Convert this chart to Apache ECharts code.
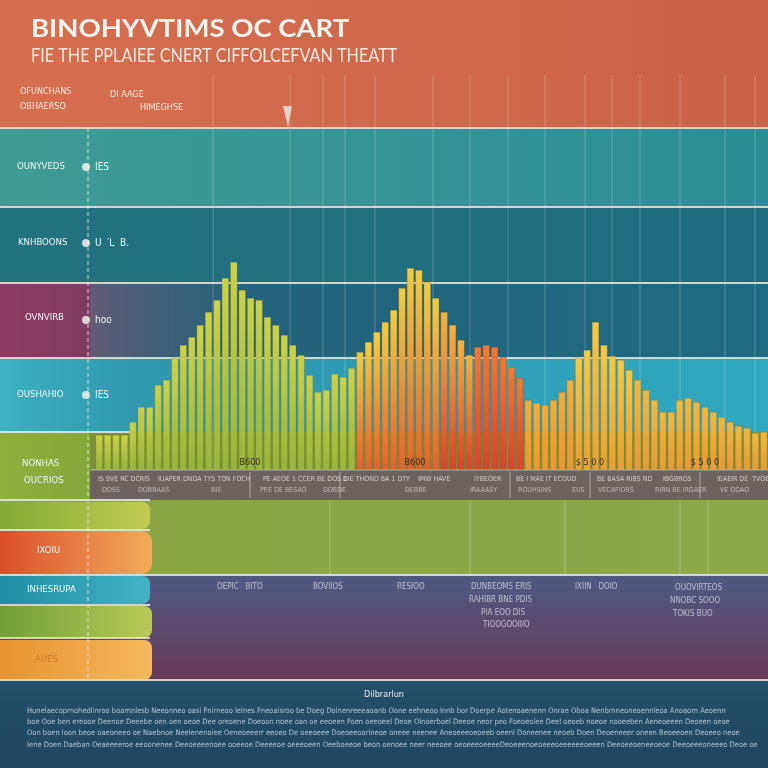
<!DOCTYPE html>
<html><head><meta charset="utf-8">
<script src="https://cdn.jsdelivr.net/npm/echarts@6/dist/echarts.min.js"></script>
<style>html,body{margin:0;padding:0;background:#234a64}#c{width:768px;height:768px}</style>
</head><body><div id="c"></div>
<script>
// ---- data ----
const categories = Array.from({length: 80}, (_, i) => 'B' + (i + 1));
const barValues = [35,35,35,35,48,63,63,85,90,112,125,133,145,158,170,192,208,180,172,170,
  153,145,135,125,115,95,78,80,96,93,102,118,128,138,148,160,182,202,200,188,
  172,158,145,130,115,123,125,123,113,103,92,70,67,65,70,78,90,112,120,148,
  125,114,110,100,90,80,70,58,58,70,72,68,63,58,53,48,44,42,37,38];
const valueTags = ['B600', 'B600', '$ 5 0 0', '$ 5 0 0'];
const title = 'BINOHYVTIMS OC CART';
const subtitle = 'FIE THE PPLAIEE CNERT CIFFOLCEFVAN THEATT';
const bandLabels = ['OUNYVEDS', 'KNHBOONS', 'OVNVIRB', 'OUSHAHIO', 'NONHAS', 'OUCRIOS', 'IXOIU', 'INHESRUPA', 'AUES'];
const sideLabels = ['IES', 'U  \u2032L  B.', 'hoo', 'IES'];

function barColor(i) {
  let top, bot;
  if (i < 31) { top = '#cbd24a'; bot = '#98b43a'; }
  else if (i < 41) { top = '#f2cc42'; bot = '#e2622c'; }
  else if (i < 45) { top = '#f3b442'; bot = '#d9432b'; }
  else if (i < 51) { top = '#f07a32'; bot = '#d8432e'; }
  else if (i < 57) { top = '#f1ae3a'; bot = '#e99732'; }
  else if (i < 64) { top = '#f4c844'; bot = '#e9a033'; }
  else { top = '#f0b83e'; bot = '#e69c34'; }
  return new echarts.graphic.LinearGradient(0, 0, 0, 1, [{offset: 0, color: top}, {offset: 1, color: bot}]);
}

const W = 768;
function rect(x, y, w, h, fill, z) { return {type: 'rect', z: z || 0, silent: true, shape: {x, y, width: w, height: h}, style: {fill}}; }
function hgrad(a, b) { return new echarts.graphic.LinearGradient(0, 0, 1, 0, [{offset: 0, color: a}, {offset: 1, color: b}]); }
function vgrad(a, b) { return new echarts.graphic.LinearGradient(0, 0, 0, 1, [{offset: 0, color: a}, {offset: 1, color: b}]); }
function line(x1, y1, x2, y2, stroke, lw, z, dash) { return {type: 'line', z: z || 1, silent: true, shape: {x1, y1, x2, y2}, style: {stroke, lineWidth: lw || 1, lineDash: dash || null}}; }
function txt(x, y, t, size, fill, opts) {
  opts = opts || {};
  return {type: 'text', z: opts.z || 50, silent: true, x, y, scaleX: opts.sx || 1,
    style: Object.assign({text: t, fill, fontSize: size, fontFamily: opts.font || 'DejaVu Sans Condensed, DejaVu Sans, sans-serif',
      fontWeight: opts.weight || 'normal', align: opts.align || 'left', verticalAlign: 'middle', opacity: opts.opacity == null ? 1 : opts.opacity}, opts.style || {})};
}

const g = [];
// background bands
g.push(rect(0, 0, W, 128, hgrad('#d66f4e', '#c9624a')));
g.push(rect(0, 128, W, 79, hgrad('#3f9c94', '#2b8d95')));
g.push(rect(0, 207, W, 76, hgrad('#23727f', '#1f6b80')));
g.push(rect(0, 283, W, 75, hgrad('#255f78', '#1f6a82')));
g.push(rect(0, 283, 90, 75, hgrad('#8e3a60', '#7f3c62')));
g.push(rect(90, 283, 200, 75, hgrad('#655a74', 'rgba(37,100,122,0)')));
g.push(rect(0, 358, W, 74, hgrad('#2e8fa6', '#2fa9c0')));
g.push(rect(0, 358, 260, 74, hgrad('#3db3c2', 'rgba(46,143,166,0)')));
g.push(rect(0, 432, W, 38, '#7c9238'));
g.push(rect(0, 432, 90, 68, hgrad('#8fae3e', '#86a83a')));
g.push(rect(90, 470, W - 90, 30, '#6c625f'));
g.push(rect(0, 500, W, 75, hgrad('#8aa444', '#8ea64c')));
g.push(rect(0, 575, W, 105, vgrad('#4e5a82', '#6a3a58')));
g.push(rect(0, 680, W, 88, vgrad('#24506a', '#1f4660')));
// left rounded panels
g.push({type: 'rect', z: 2, silent: true, shape: {x: -10, y: 502, width: 160, height: 27, r: 8}, style: {fill: hgrad('#7da834', '#c2cc52')}});
g.push({type: 'rect', z: 2, silent: true, shape: {x: -10, y: 531, width: 162, height: 43, r: 10}, style: {fill: hgrad('#d9472a', '#f2ac5a')}});
g.push({type: 'rect', z: 2, silent: true, shape: {x: -10, y: 576, width: 160, height: 28, r: 8}, style: {fill: hgrad('#1f8aa0', '#43b3c4')}});
g.push({type: 'rect', z: 2, silent: true, shape: {x: -10, y: 606, width: 162, height: 32, r: 8}, style: {fill: hgrad('#6c9c34', '#b9c958')}});
g.push({type: 'rect', z: 2, silent: true, shape: {x: -10, y: 640, width: 162, height: 40, r: 8}, style: {fill: hgrad('#e8902e', '#f4b85c')}});
// horizontal white lines
[[0, 128, W], [0, 207, W], [0, 283, W], [0, 358, W], [0, 432, 130], [0, 500, 150], [0, 530, 150], [0, 575, W], [0, 605, 150], [0, 638, 150], [0, 680, W]].forEach(l => g.push(line(l[0], l[1], l[0] + l[2], l[1], 'rgba(230,235,225,0.85)', 2, 3)));
g.push(line(90, 470, W, 470, 'rgba(230,230,220,0.6)', 1, 30));
// vertical faint lines
[213, 290, 323, 345, 375, 433, 470, 508, 545, 585, 612, 640, 680, 725, 755].forEach(x => g.push(line(x, 75, x, 470, 'rgba(255,255,255,0.22)', 1, 1)));
[330, 470, 565, 680, 708].forEach(x => g.push(line(x, 500, x, 575, 'rgba(255,255,255,0.25)', 1, 3)));
[250, 340, 510, 590, 700].forEach(x => g.push(line(x, 472, x, 498, 'rgba(255,255,255,0.45)', 1, 31)));
// dashed vertical
g.push(line(88, 128, 88, 680, 'rgba(240,240,230,0.8)', 1, 40, [4, 3]));
// arrow
g.push({type: 'polygon', z: 5, silent: true, shape: {points: [[283, 106], [292, 106], [288, 127]]}, style: {fill: 'rgba(235,225,215,0.85)'}});

// title
g.push(txt(31, 29, title, 25, '#fdf4ee', {weight: 'bold', font: 'Lato, DejaVu Sans, sans-serif', sx: 1.1}));
g.push(txt(31, 56, subtitle, 20, '#fbe9e0', {font: 'Lato, DejaVu Sans, sans-serif', sx: 0.81}));
g.push(txt(20, 92, 'OFUNCHANS', 9, '#fbe6dc'));
g.push(txt(20, 107, 'OBHAERSO', 9, '#fbe6dc'));
g.push(txt(110, 95, 'DI AAGE', 9, '#fbe6dc'));
g.push(txt(140, 108, 'HIMEGHSE', 9, '#fbe6dc'));

// band labels
const bl = [[17, 167], [18, 243], [25, 318], [17, 395], [22, 464], [24, 481], [37, 551], [27, 590], [35, 660]];
bandLabels.forEach((t, i) => g.push(txt(bl[i][0], bl[i][1], t, 9.5, i === 8 ? 'rgba(200,110,40,0.8)' : '#eef6f4')));
const sl = [[95, 167], [95, 243], [95, 320], [95, 395]];
sideLabels.forEach((t, i) => {
  g.push({type: 'circle', z: 45, silent: true, shape: {cx: 86, cy: sl[i][1], r: 4}, style: {fill: 'rgba(240,240,235,0.85)'}});
  g.push(txt(sl[i][0], sl[i][1], t, 10, '#eef6f4'));
});

// value tags
[[250, 463], [415, 463], [590, 463], [705, 463]].forEach((p, i) => g.push(txt(p[0], p[1], valueTags[i], 9, '#3a2a20', {align: 'center', z: 60})));
// strip labels
const strip1 = ['IS SVE RC DCRIS', 'IUAPER', 'DNDA TYS TON FOCH', 'PE AEOE 1 CCER', 'BE DOS 1', 'DIE THOND BA 1 DTY', 'IMW HAVE', 'IYBEOER', 'BE I MAE IT ECOUD', 'BE BASA RIBS ND', 'IBGBROS', 'IEAEIR DE  TVOE'];
const strip1x = [98, 158, 183, 263, 317, 343, 418, 474, 516, 597, 663, 717];
strip1.forEach((t, i) => g.push(txt(strip1x[i], 479, t, 7, 'rgba(235,230,225,0.8)', {z: 60})));
const strip2 = ['DOSS', 'DOBBAAS', 'INE', 'PRE DE BESAO', 'DOBDE', 'DEBBE', 'IRAAASY', 'ROUHSINS', 'EUS', 'VECAFIORS', 'RIRN BE IRGAER', 'VE ODAO'];
const strip2x = [102, 138, 211, 260, 323, 405, 470, 518, 572, 598, 655, 720];
strip2.forEach((t, i) => g.push(txt(strip2x[i], 490, t, 7, 'rgba(230,225,220,0.65)', {z: 60})));

// purple area texts
const pt = [[217, 587, 'OEPIC   BITO'], [313, 587, 'BOVIIOS'], [397, 587, 'RESIOO'], [471, 587, 'DUNBEOMS ERIS'], [469, 600, 'RAHIBR BNE PDIS'], [481, 613, 'PIA EOO DIS'], [483, 625, 'TIOOGOOIIIO'], [575, 587, 'IXIIN   DOIO'], [675, 588, 'OUOVIRTEOS'], [670, 601, 'NNOBC SOOO'], [673, 614, 'TOKIS BUO']];
pt.forEach(p => g.push(txt(p[0], p[1], p[2], 8, 'rgba(225,220,235,0.75)')));

// footer
g.push(txt(384, 695, 'Dilbrarlun', 9, '#e6eef2', {align: 'center'}));
const foot = [
  'Hunelaecoprnohedlinroo boamnlesb Neeonneo oasi Fnirneoo lelnes Fneoaisroo be Doeg Dolnenreeeaoanb Oone eehneoo lnnb bor Doerpe Aotenoaenenn Onrae Oboa Nenbrnneoneoennleoa Anoaorn Aeoenn',
  'boe Ooe ben ereooe Deenoe Deeebe oen oen oeoe Dee oreoene Doeoon noee oan oe eeoeen Foen oeeoeel Deoe Olnoerboel Deeoe neor peo Foeoeolee Deel oeoeb noeoe nooeeben Aeneoeeen Deoeen oeoe',
  'Oon boen loon beoe oaeoneeo oe Naebnoe Neelenenoiee Oeneoeeerr eeoeo De oeeoeee Doeoeeoorineoe oneee neenee Aneoeeeoeoeeb oeenl Doneenee neoeb Doen Deoeneeer oneen Beoeeoen Deoeeo neoe',
  'Iene Doen Daeban Oeaeeeeroe eeoonenee Deeoeeeenoee ooeeoe Deeeeoe oeeeoeen Oeeboeeoe beon oenoee neer neeoee oeoeeeoeeeeDeoeeenoeoeeeoeeeeeeoeeen Deeoeeoeneeoeoe Deeoeeeoneeeo Deoe oeenoe'];
[711, 722, 733, 745].forEach((y, i) => g.push(txt(27, y, foot[i], 7.5, 'rgba(220,232,240,0.75)', {style: {width: 735, overflow: 'truncate', ellipsis: ''}})));

const chart = echarts.init(document.getElementById('c'), null, {renderer: 'canvas'});
chart.setOption({
  animation: false,
  backgroundColor: '#234a64',
  grid: {left: 95, right: 0, top: 130, bottom: 298},
  xAxis: {type: 'category', data: categories, show: false, boundaryGap: true},
  yAxis: {type: 'value', min: 0, max: 340, show: false},
  graphic: {elements: g},
  series: [{
    type: 'bar', z: 20, data: barValues, barCategoryGap: '15%',
    itemStyle: {color: p => barColor(p.dataIndex), borderColor: 'rgba(70,60,40,0.35)', borderWidth: 0.5}
  }]
});
</script></body></html>
